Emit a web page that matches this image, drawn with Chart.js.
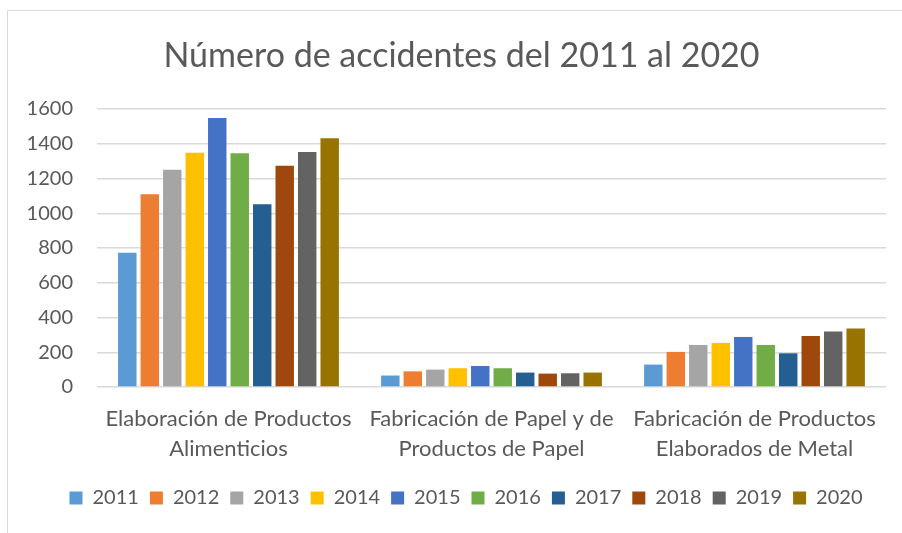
<!DOCTYPE html>
<html>
<head>
<meta charset="utf-8">
<script src="https://cdn.jsdelivr.net/npm/chart.js@4.4.1/dist/chart.umd.min.js"></script>
<style>
  html, body { margin: 0; padding: 0; background: #fff; }
  #wrap { position: relative; width: 902px; height: 533px; }
</style>
</head>
<body>
<div id="wrap"><canvas id="chart" width="902" height="533"></canvas></div>
<script>
const categories = [
  ["Elaboración de Productos", "Alimenticios"],
  ["Fabricación de Papel y de", "Productos de Papel"],
  ["Fabricación de Productos", "Elaborados de Metal"]
];
const years = ["2011","2012","2013","2014","2015","2016","2017","2018","2019","2020"];
const colors = ["#5B9BD5","#ED7D31","#A5A5A5","#FFC000","#4472C4","#70AD47","#255E91","#9E480E","#636363","#997300"];

// values per year: [Alimenticios, Papel, Metal]
const v2011 = [773, 66, 129];
const v2012 = [1110, 90, 202];
const v2013 = [1251, 100, 242];
const v2014 = [1348, 108, 254];
const v2015 = [1548, 121, 288];
const v2016 = [1346, 108, 242];
const v2017 = [1052, 83, 194];
const v2018 = [1273, 77, 294];
const v2019 = [1352, 79, 320];
const v2020 = [1432, 83, 337];
const seriesValues = [v2011, v2012, v2013, v2014, v2015, v2016, v2017, v2018, v2019, v2020];

const yTicks = [0, 200, 400, 600, 800, 1000, 1200, 1400, 1600];

const FONT = "Lato, 'Open Sans', sans-serif";
const TEXT = "#595959";

// light frame like the Excel chart area
const framePlugin = {
  id: "frame",
  beforeDraw(chart){
    const c = chart.ctx;
    c.save();
    c.fillStyle = "#fff";
    c.fillRect(0, 0, chart.width, chart.height);
    c.strokeStyle = "#d9d9d9";
    c.lineWidth = 1;
    c.beginPath();
    c.moveTo(7.5, chart.height);
    c.lineTo(7.5, 10.5);
    c.lineTo(chart.width, 10.5);
    c.stroke();
    c.restore();
  }
};

// title and legend in the original sit a bit further right
const blockShift = {
  id: "blockShift",
  afterLayout(chart){
    if (chart.legend) chart.legend.left += 46;
    if (chart.titleBlock) chart.titleBlock.left += 37;
  }
};

new Chart(document.getElementById("chart"), {
  type: "bar",
  data: {
    labels: categories,
    datasets: years.map((y, i) => ({
      label: y,
      data: seriesValues[i],
      backgroundColor: colors[i],
      borderWidth: 0,
      categoryPercentage: 0.855,
      barPercentage: 0.82
    }))
  },
  options: {
    responsive: false,
    animation: false,
    layout: { padding: { left: 0, right: 16, top: 0, bottom: 15 } },
    plugins: {
      title: {
        display: true,
        text: "Número de accidentes del 2011 al 2020",
        color: TEXT,
        font: { family: FONT, size: 34, weight: "normal" },
        padding: { top: 36, bottom: 32.2 }
      },
      legend: {
        position: "bottom",
        labels: {
          color: TEXT,
          font: { family: FONT, size: 20 },
          boxWidth: 13,
          boxHeight: 13,
          padding: 11
        }
      },
      tooltip: { enabled: false }
    },
    scales: {
      x: {
        grid: { display: false, drawTicks: false },
        border: { display: false },
        ticks: {
          color: TEXT,
          font: { family: FONT, size: 22, lineHeight: 1.364 },
          padding: 17,
          maxRotation: 0
        },
        afterFit(scale){ scale.height = 90; }
      },
      y: {
        min: 0,
        max: 1600,
        afterBuildTicks(scale){ scale.ticks = yTicks.map(v => ({ value: v })); },
        grid: { color: "#d9d9d9", lineWidth: 1.5, drawTicks: false },
        border: { display: false },
        ticks: {
          color: TEXT,
          font: { family: FONT, size: 20 },
          padding: 24,
          callback: (val) => String(val)
        },
        afterFit(scale){ scale.width = 97; }
      }
    }
  },
  plugins: [framePlugin, blockShift]
});
</script>
</body>
</html>
